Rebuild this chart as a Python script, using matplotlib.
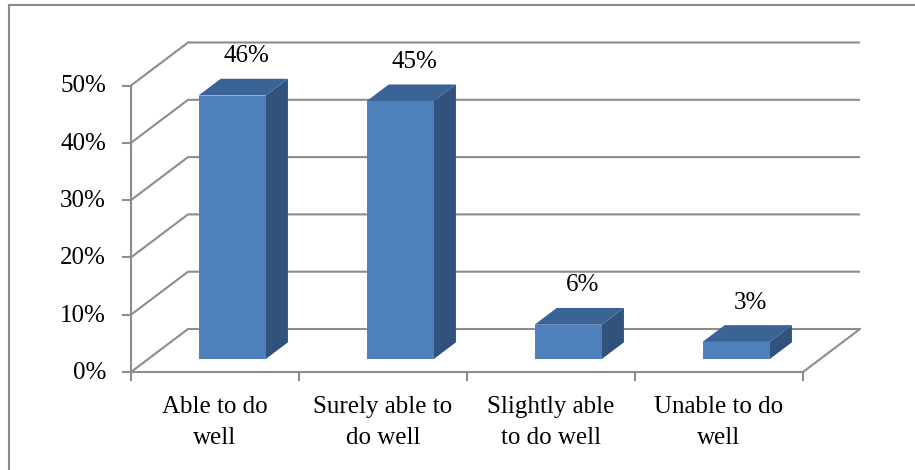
import matplotlib
matplotlib.use("Agg")
import matplotlib.pyplot as plt
from matplotlib.patches import Polygon

categories = ["Able to do\nwell", "Surely able to\ndo well", "Slightly able\nto do well", "Unable to do\nwell"]
values = [46, 45, 6, 3]
tick_values = [0, 10, 20, 30, 40, 50]
tick_labels = ["0%", "10%", "20%", "30%", "40%", "50%"]

W, H = 915, 470
fig = plt.figure(figsize=(W / 100, H / 100), dpi=100)
ax = fig.add_axes([0, 0, 1, 1])
ax.set_xlim(0, W)
ax.set_ylim(H, 0)
ax.axis("off")

# oblique projection of the 3-D chart space
X0, Y0 = 131, 372          # front-left floor corner
SLOT = 168                 # width of one category slot
PER = 5.73                 # pixels per percentage point
DX, DY = 57, -43           # depth offset of the back wall


def proj(slot, value, depth):
    return (X0 + slot * SLOT + depth * DX, Y0 - value * PER + depth * DY)


GRID = "#8c8c8c"
LW = 1.5
FS = 18
FONT = "Liberation Serif"
n = len(categories)

# back wall gridlines and left wall diagonals
for v in tick_values:
    xa, ya = proj(0, v, 0)
    xb, yb = proj(0, v, 1)
    xc, yc = proj(n, v, 1)
    ax.plot([xa, xb, xc], [ya, yb, yc], color=GRID, lw=LW, solid_capstyle="butt", zorder=1)

# floor right edge
xa, ya = proj(n, 0, 0)
xb, yb = proj(n, 0, 1)
ax.plot([xa, xb], [ya, yb], color=GRID, lw=LW, zorder=1)

# front axes
xa, ya = proj(0, 0, 0)
xb, yb = proj(0, tick_values[-1], 0)
ax.plot([xa, xb], [ya, yb], color=GRID, lw=LW, zorder=1)
xc, yc = proj(n, 0, 0)
ax.plot([xa, xc], [ya, yc], color=GRID, lw=LW, zorder=1)

for v, lab in zip(tick_values, tick_labels):
    x, y = proj(0, v, 0)
    ax.plot([x - 8, x], [y, y], color=GRID, lw=LW, zorder=1)
    ax.text(x - 25, y + 1, lab, ha="right", va="center", fontsize=FS,
            family=FONT, color="black")

for i in range(n + 1):
    x, y = proj(i, 0, 0)
    ax.plot([x, x], [y, y + 8], color=GRID, lw=LW, zorder=1)

for i, cat in enumerate(categories):
    x, y = proj(i + 0.5, 0, 0)
    ax.text(x, y + 24, cat, ha="center", va="top", fontsize=FS,
            family=FONT, color="black", linespacing=1.52)

# bars
FRONT = "#4f81bd"
SIDE = "#31527c"
TOP = "#3a6396"
U0, U1 = 0.3, 0.7
D0, D1 = 0.3, 0.69
for i, v in enumerate(values):
    fbl = proj(i + U0, 0, D0)
    fbr = proj(i + U1, 0, D0)
    ftl = proj(i + U0, v, D0)
    ftr = proj(i + U1, v, D0)
    bbr = proj(i + U1, 0, D1)
    btl = proj(i + U0, v, D1)
    btr = proj(i + U1, v, D1)
    ax.add_patch(Polygon([fbr, bbr, btr, ftr], closed=True, fc=SIDE, ec="none", zorder=3))
    ax.add_patch(Polygon([ftl, ftr, btr, btl], closed=True, fc=TOP, ec="none", zorder=3))
    ax.add_patch(Polygon([fbl, fbr, ftr, ftl], closed=True, fc=FRONT, ec="none", zorder=4))
    cx, cy = proj(i + 0.5, v, (D0 + D1) / 2)
    ax.text(cx + 3, cy - 31, f"{v}%", ha="center", va="center", fontsize=FS,
            family=FONT, color="black", zorder=5)

# outer frame (left and top edges)
ax.plot([9, 9], [H, 5], color="#8a8a8a", lw=1.5, zorder=6)
ax.plot([9, W], [5, 5], color="#8a8a8a", lw=1.5, zorder=6)

fig.savefig("out.png", dpi=100)
